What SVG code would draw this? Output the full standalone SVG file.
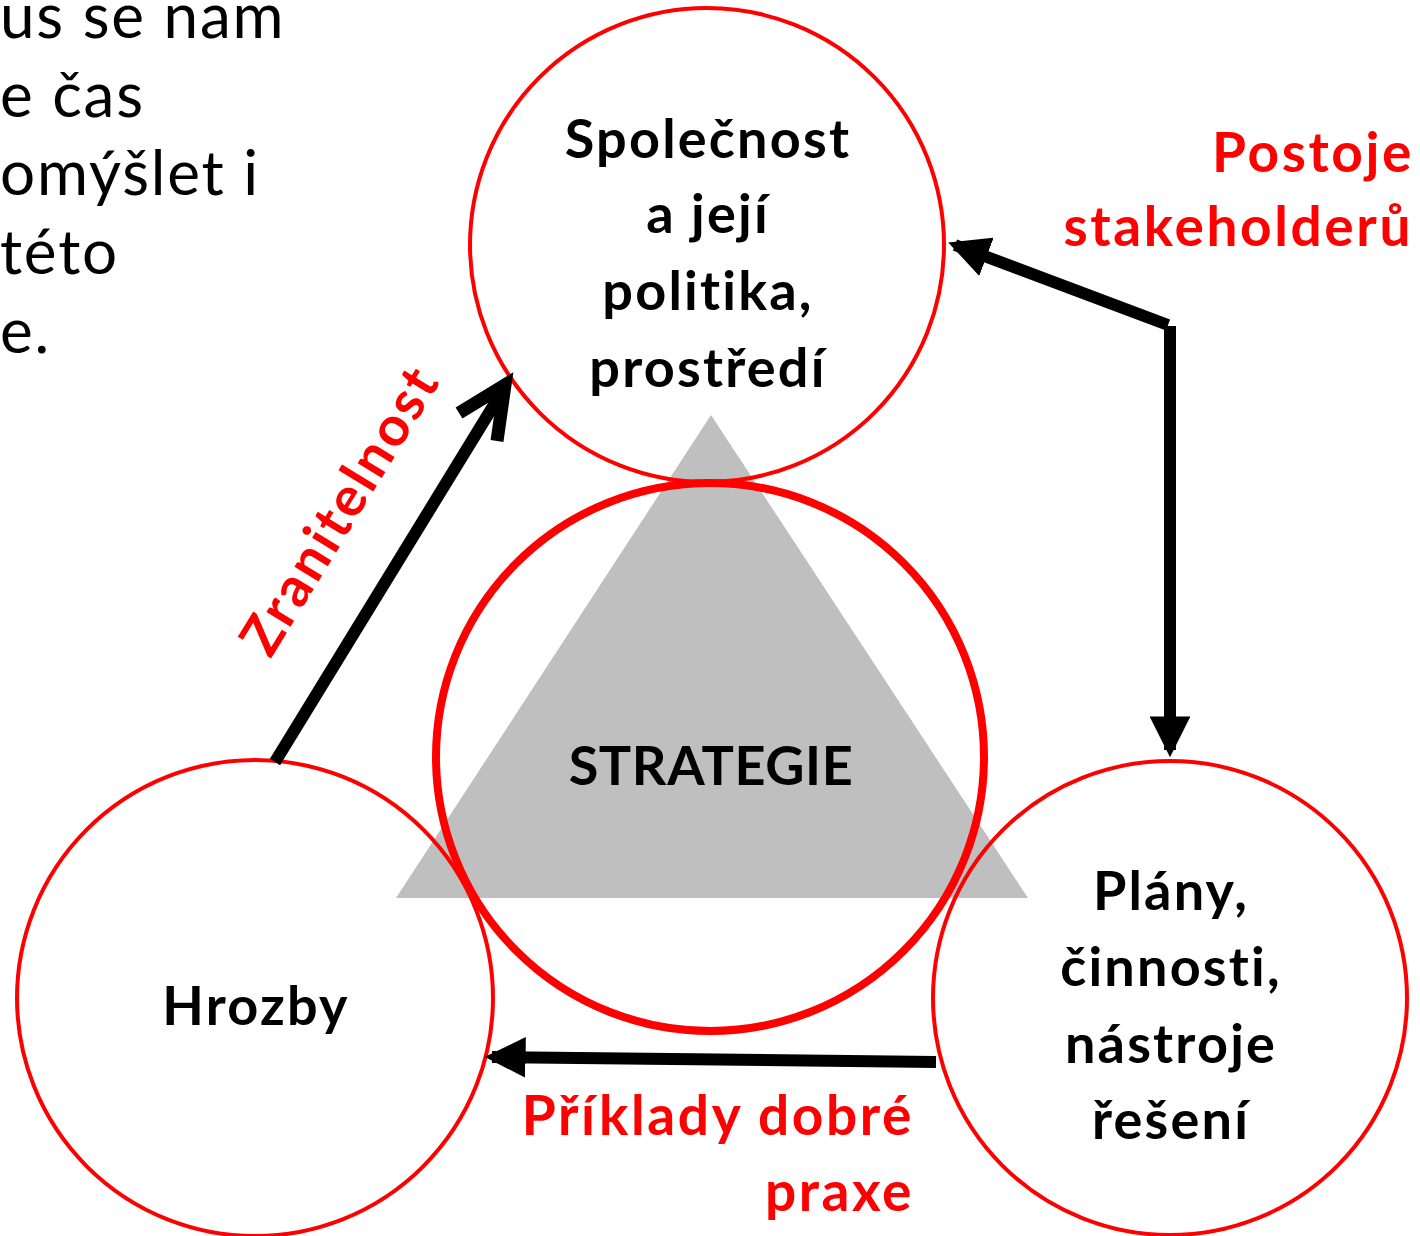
<svg xmlns="http://www.w3.org/2000/svg" width="1420" height="1236" viewBox="0 0 1420 1236">
<style>
text{font-variant-ligatures:none}
.ring{fill:none;stroke:#ff0000;stroke-width:4}
.lbl{font-family:Lato,"Open Sans","Liberation Sans",sans-serif;font-weight:700;font-size:54px;letter-spacing:2.2px;fill:#000;text-anchor:middle}
.red{font-family:Lato,"Open Sans","Liberation Sans",sans-serif;font-weight:700;font-size:55px;letter-spacing:2.6px;fill:#ff0000}
.bg{font-family:Lato,"Open Sans","Liberation Sans",sans-serif;font-size:62px;letter-spacing:1.8px;fill:#000}
.conn{stroke:#000;stroke-width:12;fill:none}
</style>
<defs>
<marker id="ah" markerWidth="3.4" markerHeight="3.4" refX="2.8" refY="1.7" orient="auto" markerUnits="strokeWidth">
<path d="M0,0 L3.4,1.7 L0,3.4 Z" fill="#000"/>
</marker>
</defs>
<rect width="1420" height="1236" fill="#fff"/>
<g id="bgtext" class="bg">
<text x="0" y="38">us se nam</text>
<text x="0" y="117">e čas</text>
<text x="0" y="195">omýšlet i</text>
<text x="0" y="274">této</text>
<text x="0" y="353">e.</text>
</g>
<polygon id="triangle" points="711,415 396,898 1028,898" fill="#bfbfbf"/>
<g id="strategie">
<circle cx="710" cy="757" r="274" fill="none" stroke="#ff0000" stroke-width="8"/>
<text class="lbl" x="711" y="785" style="letter-spacing:0.6px">STRATEGIE</text>
</g>
<g id="spolecnost">
<circle class="ring" cx="707" cy="245" r="237"/>
<text class="lbl" x="708" y="158">Společnost</text>
<text class="lbl" x="708" y="233">a její</text>
<text class="lbl" x="708" y="310">politika,</text>
<text class="lbl" x="708" y="387">prostředí</text>
</g>
<g id="hrozby">
<circle class="ring" cx="255" cy="998" r="238"/>
<text class="lbl" x="256" y="1025">Hrozby</text>
</g>
<g id="plany">
<circle class="ring" cx="1170" cy="998" r="237"/>
<text class="lbl" x="1171" y="910">Plány,</text>
<text class="lbl" x="1171" y="986">činnosti,</text>
<text class="lbl" x="1171" y="1063">nástroje</text>
<text class="lbl" x="1171" y="1139">řešení</text>
</g>
<g id="connectors">
<line class="conn" x1="275" y1="762" x2="500" y2="395"/>
<polyline points="459,413 505,385 497,441" fill="none" stroke="#000" stroke-width="13" stroke-linejoin="miter"/>
<line class="conn" x1="1168" y1="325" x2="955" y2="245" marker-end="url(#ah)"/>
<line class="conn" x1="1170" y1="326" x2="1170" y2="750" marker-end="url(#ah)"/>
<line class="conn" x1="936" y1="1062" x2="492" y2="1057" marker-end="url(#ah)"/>
</g>
<g id="labels">
<text class="red" x="1414" y="172" text-anchor="end">Postoje</text>
<text class="red" x="1413" y="246" text-anchor="end">stakeholderů</text>
<text class="red" x="914" y="1135" text-anchor="end">Příklady dobré</text>
<text class="red" x="914" y="1211" text-anchor="end">praxe</text>
<text class="red" text-anchor="middle" transform="translate(356,520) rotate(-58.5)">Zranitelnost</text>
</g>
</svg>
